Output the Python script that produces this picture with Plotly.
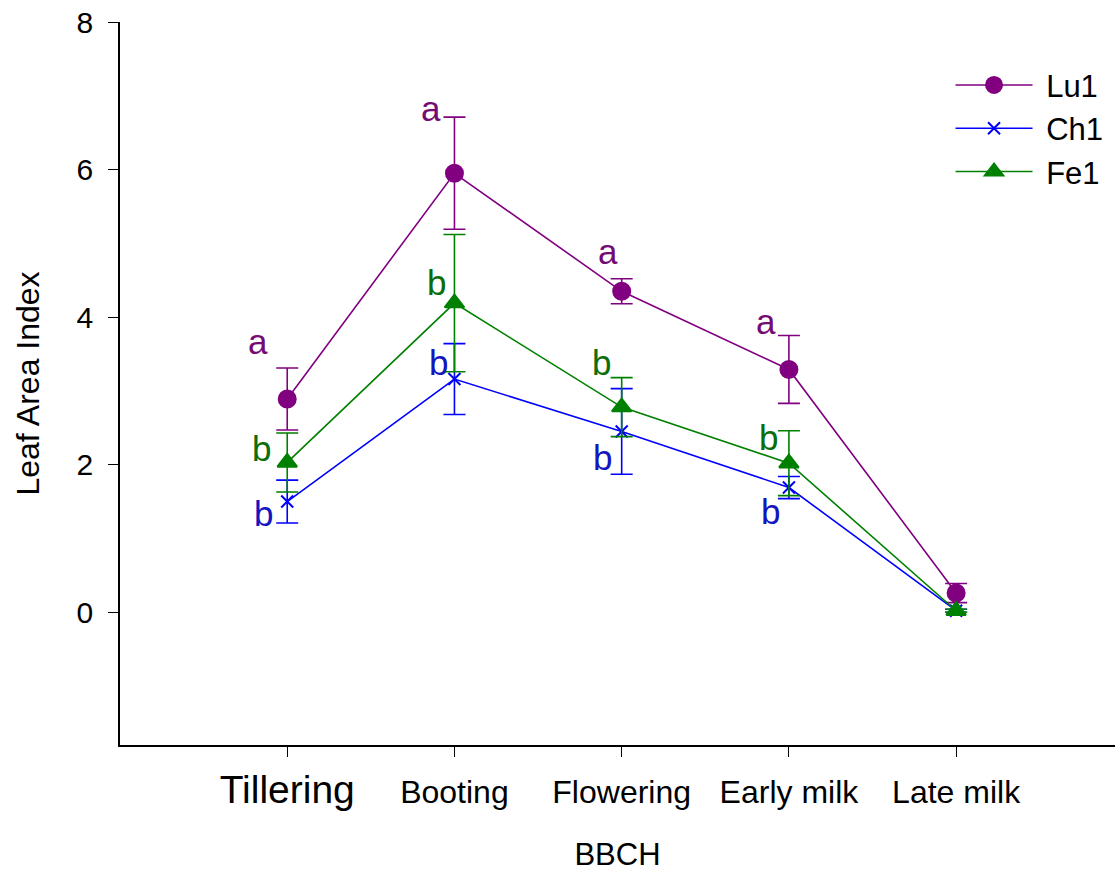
import plotly.graph_objects as go

stages = ["Tillering", "Booting", "Flowering", "Early milk", "Late milk"]
xpos = [1, 2, 3, 4, 5]

lu1 = [2.89, 5.95, 4.35, 3.29, 0.26]
lu1_err = [0.42, 0.76, 0.17, 0.46, 0.13]
ch1 = [1.50, 3.16, 2.45, 1.69, 0.02]
ch1_err = [0.29, 0.48, 0.58, 0.15, 0.02]
fe1 = [2.03, 4.19, 2.78, 2.02, 0.02]
fe1_err = [0.40, 0.93, 0.40, 0.44, 0.02]

# significance letters (first four stages) and where they sit
lu1_letters = ["a", "a", "a", "a"]
lu1_letter_y = [3.67, 6.83, 4.89, 3.94]
lu1_letter_dx = [-29, -23, -14, -23]
fe1_letters = ["b", "b", "b", "b"]
fe1_letter_y = [2.22, 4.47, 3.38, 2.37]
fe1_letter_dx = [-26, -18, -20, -20]
ch1_letters = ["b", "b", "b", "b"]
ch1_letter_y = [1.34, 3.39, 2.10, 1.36]
ch1_letter_dx = [-24, -16, -19, -18]

tick_labels = ['<span style="font-size:39px">' + stages[0] + '</span>'] + stages[1:]

FONT = "Liberation Sans, Arial, sans-serif"
NB = "\u00a0"

fig = go.Figure()

def add_series(name, y, err, color, symbol, size):
    fig.add_trace(go.Scatter(
        x=xpos, y=y, name=NB + name, mode="lines+markers",
        line=dict(color=color, width=1.6),
        marker=dict(color=color, symbol=symbol, size=size,
                    line=dict(color=color, width=2)),
        error_y=dict(type="data", array=err, visible=True, color=color,
                     thickness=1.6, width=11),
    ))

add_series("Lu1", lu1, lu1_err, "#800080", "circle", 17)
add_series("Ch1", ch1, ch1_err, "#0000FF", "x-thin-open", 12)
add_series("Fe1", fe1, fe1_err, "#008000", "triangle-up", 17)

def add_letters(letters, ys, dxs, color):
    for i, (t, yv, dx) in enumerate(zip(letters, ys, dxs)):
        fig.add_annotation(x=xpos[i], y=yv, text=t, showarrow=False,
                           xshift=dx, font=dict(size=35, color=color, family=FONT))

add_letters(lu1_letters, lu1_letter_y, lu1_letter_dx, "#730B73")
add_letters(fe1_letters, fe1_letter_y, fe1_letter_dx, "#0A6E0A")
add_letters(ch1_letters, ch1_letter_y, ch1_letter_dx, "#1515C0")

fig.update_layout(
    width=1115, height=872,
    margin=dict(l=120, r=0, t=22, b=127),
    plot_bgcolor="white", paper_bgcolor="white",
    font=dict(family=FONT, size=31, color="black"),
    showlegend=True,
    legend=dict(x=0.8347, y=0.9498, xanchor="left", yanchor="top",
                font=dict(size=31), itemwidth=77, tracegroupgap=0,
                bgcolor="rgba(0,0,0,0)"),
    xaxis=dict(range=[0, 5.95], tickvals=xpos, ticktext=tick_labels,
               showgrid=False, zeroline=False, showline=True, linecolor="black",
               linewidth=1.7, ticks="outside", ticklen=10, tickwidth=1.3,
               tickcolor="black", tickfont=dict(size=32), ticklabelstandoff=8,
               automargin=False,
               title=dict(text="BBCH", font=dict(size=31), standoff=43)),
    yaxis=dict(range=[-1.8, 8], tickvals=[0, 2, 4, 6, 8],
               showgrid=False, zeroline=False, showline=True, linecolor="black",
               linewidth=1.7, ticks="outside", ticklen=10, tickwidth=1.3,
               tickcolor="black", tickfont=dict(size=30), ticklabelstandoff=9,
               ticklabeloverflow="allow", automargin=False,
               title=dict(text="Leaf Area Index", font=dict(size=32), standoff=27)),
)

fig.write_html(
    "out.html",
    config={"displayModeBar": False},
    post_script="document.body.style.margin='0';document.body.style.overflow='hidden';",
)
